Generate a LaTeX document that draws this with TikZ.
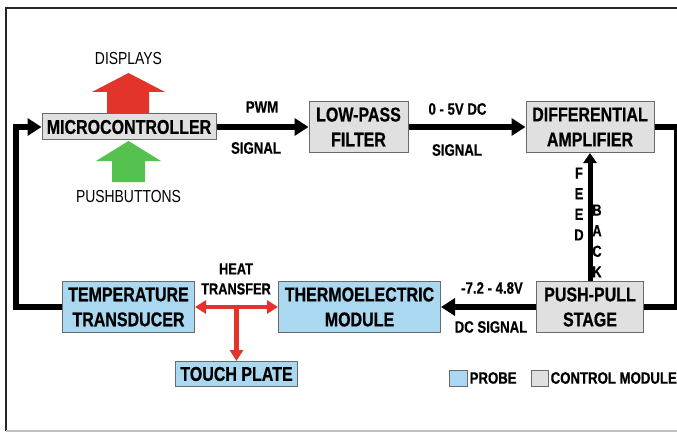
\documentclass[tikz,border=0pt]{standalone}
\usepackage{fontspec}
\setmainfont{Liberation Sans}[FakeStretch=0.8, BoldFeatures={FakeBold=0.6}]
\usetikzlibrary{positioning,calc,arrows.meta}
\definecolor{ctrlgray}{HTML}{E0E0E0}
\definecolor{probeblue}{HTML}{A9D8F0}
\definecolor{heatred}{HTML}{E2342A}
\definecolor{btngreen}{HTML}{55C24F}
\definecolor{edgegray}{HTML}{6A6A6A}
\newcommand{\blkfont}{\fontsize{20}{25}\selectfont\bfseries}
\newcommand{\lblfont}{\fontsize{16.5}{20}\selectfont\bfseries}
\newcommand{\vfont}{\fontsize{16}{20.6}\selectfont\bfseries}
\newcommand{\iofont}{\fontsize{17.4}{20}\selectfont}
\tikzset{
  blk/.style={draw=edgegray, line width=1pt, inner sep=0pt, align=center, font=\blkfont},
  ctrlbox/.style={blk, fill=ctrlgray},
  probebox/.style={blk, fill=probeblue},
  lbl/.style={inner sep=0pt, font=\lblfont},
  sigarrow/.style={line width=6.5pt, -{Triangle[length=14pt,width=17pt]}},
  fbarrow/.style={line width=5pt, -{Triangle[length=10pt,width=13pt]}},
  heatarrow/.style={heatred, line width=4.5pt, -{Triangle[length=11pt,width=13pt]}}
}

\begin{document}
\begin{tikzpicture}[x=1pt, y=-1pt]
\useasboundingbox (0,0) rectangle (677,433);
% frame
\draw[line width=2pt, black!85] (6,431) -- (6,8) -- (677,8);
\draw[line width=1.5pt, black!25] (6,431) -- (677,431);

% displays / pushbuttons
\fill[heatred] (107,114) -- (107,92) -- (92,92) -- (128.5,73) -- (165,92) -- (149,92) -- (149,114) -- cycle;
\fill[btngreen] (112,182) -- (112,161) -- (96,161) -- (128.5,141) -- (161,161) -- (145,161) -- (145,182) -- cycle;
\node[inner sep=0pt, font=\iofont] (disp) at (128.5,59) {DISPLAYS};
\node[inner sep=0pt, font=\iofont] (pbtn) at (128.5,197) {PUSHBUTTONS};

% control module
\node[ctrlbox, minimum width=174pt, minimum height=26pt] (micro) at (129,127) {MICROCONTROLLER};
\node[ctrlbox, minimum width=99pt, minimum height=51pt, right=92pt of micro] (lpf) {LOW-PASS\\FILTER};
\node[ctrlbox, minimum width=128pt, minimum height=51pt, right=117pt of lpf] (diff) {DIFFERENTIAL\\AMPLIFIER};
\node[ctrlbox, minimum width=107pt, minimum height=51pt, below=128pt of diff] (push) {PUSH-PULL\\STAGE};

% probe
\node[probebox, minimum width=162pt, minimum height=51pt, left=95pt of push] (thermo) {THERMOELECTRIC\\MODULE};
\node[probebox, minimum width=132pt, minimum height=51pt, left=83pt of thermo] (trans) {TEMPERATURE\\TRANSDUCER};
\coordinate (ht) at ($(trans.east)!0.5!(thermo.west)$);
\node[probebox, minimum width=122pt, minimum height=25pt, below=54pt of ht] (touch) {TOUCH PLATE};

% signal path
\draw[sigarrow] (micro) -- (lpf);
\draw[sigarrow] (lpf) -- (diff);
\draw[line width=6.5pt] (diff.east) -- ++(23,0) |- (push.east);
\draw[sigarrow] (push) -- (thermo);
\draw[fbarrow] (push.north) -- (push.north |- diff.south);
\draw[sigarrow] (trans.west) -- ++(-46,0) |- (micro.west);
\draw[heatarrow, {Triangle[length=11pt,width=13pt]}-{Triangle[length=11pt,width=13pt]}] (trans) -- (thermo);
\draw[heatarrow] (ht) -- (touch);

% labels
\node[lbl] (pwm) at (262,107) {PWM};
\node[lbl] (pwmsig) at (256,148) {SIGNAL};
\node[lbl] (dcv) at (457.5,109) {0 - 5V DC};
\node[lbl] (dcsig) at (457,150) {SIGNAL};
\node[lbl] (outv) at (492,288) {-7.2 - 4.8V};
\node[lbl] (outsig) at (491,327) {DC SIGNAL};
\node[lbl, align=center, font=\fontsize{16}{20}\selectfont\bfseries] (heat) at (236,279) {HEAT\\TRANSFER};
\node[lbl, align=center, font=\vfont] (feed) at (579,204) {F\\E\\E\\D};
\node[lbl, align=center, font=\vfont] (back) at (597,241) {B\\A\\C\\K};

% legend
\node[probebox, minimum width=18pt, minimum height=16pt] (keyprobe) at (458,378) {};
\node[lbl, right=2pt of keyprobe] (keyprobetxt) {PROBE};
\node[ctrlbox, minimum width=17pt, minimum height=16pt] (keyctrl) at (539.5,378) {};
\node[lbl, right=2pt of keyctrl] (keyctrltxt) {CONTROL MODULE};
\end{tikzpicture}
\end{document}
